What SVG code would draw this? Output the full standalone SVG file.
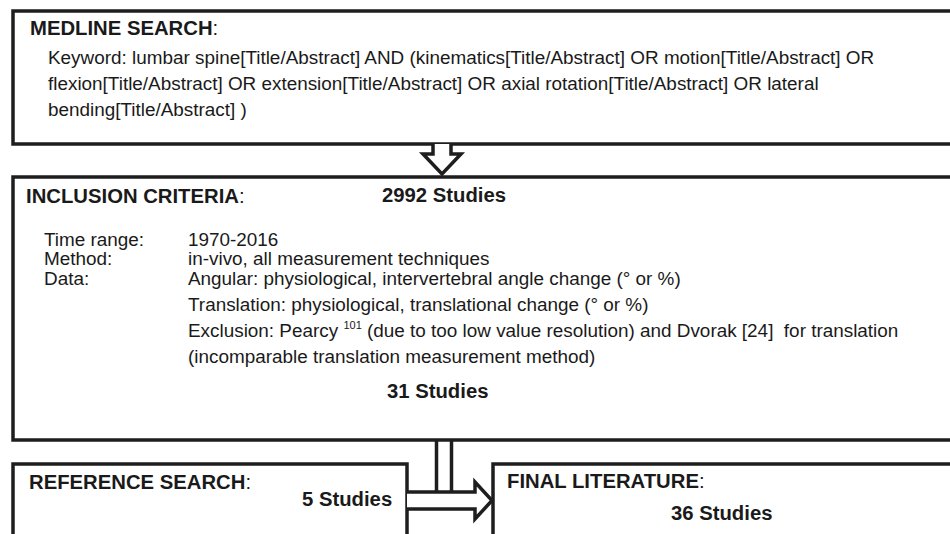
<svg xmlns="http://www.w3.org/2000/svg" width="950" height="534" viewBox="0 0 950 534">
<style>
.box{fill:#fff;stroke:#1e1e1e;stroke-width:3.5}
.con{fill:#fff;stroke:#1e1e1e;stroke-width:3.5;stroke-linejoin:miter}
.t{font-family:"Liberation Sans",Arial,sans-serif;font-size:18.9px;fill:#1a1a1a}
.h{font-family:"Liberation Sans",Arial,sans-serif;font-size:20.3px;font-weight:bold;fill:#1a1a1a}
.hc{font-weight:normal}
.sup{font-size:11px}
</style>
<rect width="950" height="534" fill="#fff"/>
<g id="medline">
<rect class="box" x="13" y="11" width="960" height="133"/>
<text class="h" x="30" y="35">MEDLINE SEARCH<tspan class="hc">:</tspan></text>
<text class="t" x="48" y="64">Keyword: lumbar spine[Title/Abstract] AND (kinematics[Title/Abstract] OR motion[Title/Abstract] OR</text>
<text class="t" x="48" y="90">flexion[Title/Abstract] OR extension[Title/Abstract] OR axial rotation[Title/Abstract] OR lateral</text>
<text class="t" x="48" y="116">bending[Title/Abstract] )</text>
</g>
<g id="inclusion">
<rect class="box" x="13" y="177" width="960" height="263"/>
<text class="h" x="26" y="203">INCLUSION CRITERIA<tspan class="hc">:</tspan></text>
<text class="h" x="382" y="202">2992 Studies</text>
<text class="t" x="44" y="246">Time range:</text>
<text class="t" x="188" y="246">1970-2016</text>
<text class="t" x="44" y="265">Method:</text>
<text class="t" x="188" y="265">in-vivo, all measurement techniques</text>
<text class="t" x="44" y="285">Data:</text>
<text class="t" x="188" y="285">Angular: physiological, intervertebral angle change (° or %)</text>
<text class="t" x="188" y="311">Translation: physiological, translational change (° or %)</text>
<text class="t" x="188" y="337" xml:space="preserve">Exclusion: Pearcy <tspan class="sup" dy="-8">101</tspan><tspan dy="8"> (due to too low value resolution) and Dvorak [24]  for translation</tspan></text>
<text class="t" x="188" y="363">(incomparable translation measurement method)</text>
<text class="h" x="387" y="398">31 Studies</text>
</g>
<g id="reference">
<rect class="box" x="13" y="464" width="394" height="100"/>
<text class="h" x="29" y="489">REFERENCE SEARCH<tspan class="hc">:</tspan></text>
<text class="h" x="302" y="506">5 Studies</text>
</g>
<g id="final">
<rect class="box" x="493" y="464" width="480" height="100"/>
<text class="h" x="507" y="488">FINAL LITERATURE<tspan class="hc">:</tspan></text>
<text class="h" x="671" y="520">36 Studies</text>
</g>
<g id="connectors">
<path class="con" d="M433,144 V154 H423 L442,174 L461,154 H451 V144"/>
<path class="con" d="M407,492 H475 V482 L492,500.5 L475,519 V509 H407"/>
<path class="con" d="M436.5,440 V492 M451.5,440 V492" fill="none"/>
</g>
</svg>
